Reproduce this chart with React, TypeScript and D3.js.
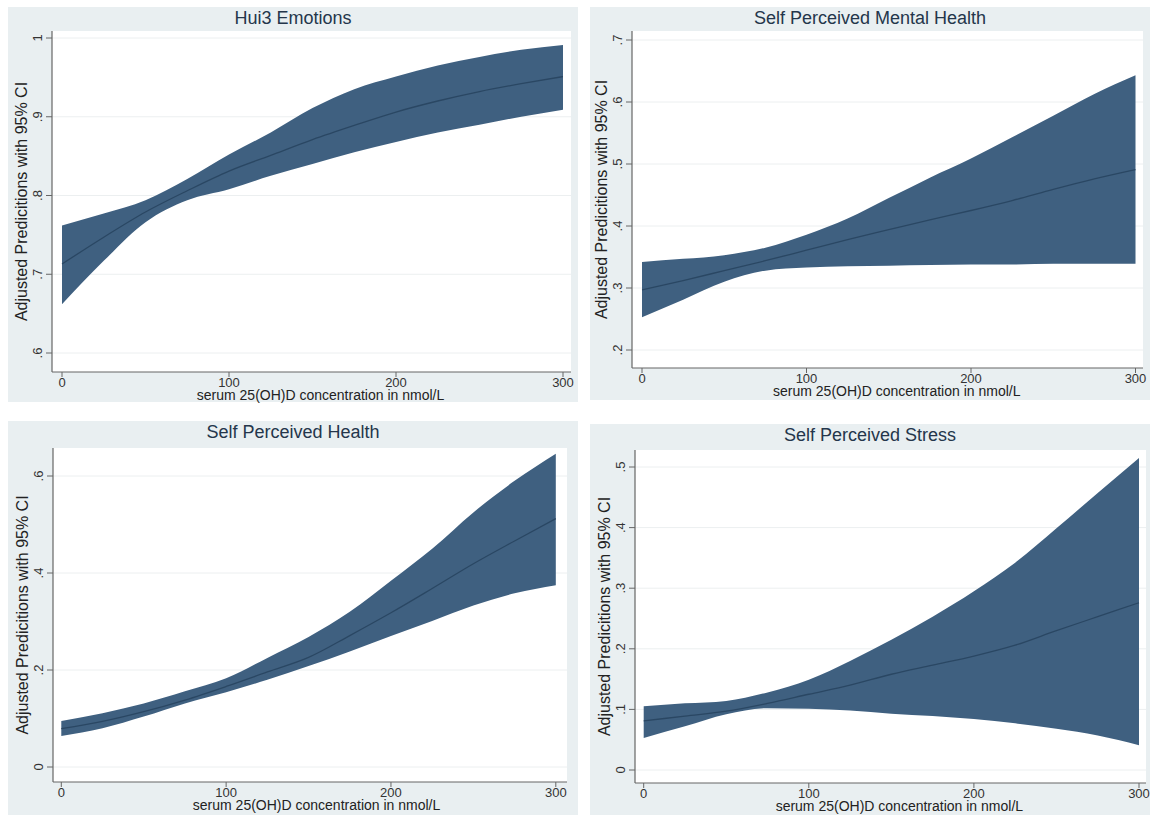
import React from "react";
import * as d3 from "d3";

// ---------- DATA ----------
const xValues = [0, 25, 50, 75, 100, 125, 150, 175, 200, 225, 250, 275, 300];
const xTicks = [0, 100, 200, 300];

const hui3Upper = [0.762, 0.777, 0.794, 0.821, 0.852, 0.880, 0.911, 0.935, 0.951, 0.965, 0.976, 0.985, 0.991];
const hui3Mean = [0.713, 0.747, 0.779, 0.806, 0.831, 0.851, 0.871, 0.889, 0.906, 0.920, 0.932, 0.942, 0.951];
const hui3Lower = [0.662, 0.717, 0.766, 0.794, 0.808, 0.825, 0.840, 0.855, 0.868, 0.880, 0.890, 0.900, 0.909];
const hui3Ticks = [0.6, 0.7, 0.8, 0.9, 1];
const hui3TickLabels = [".6", ".7", ".8", ".9", "1"];

const mentalUpper = [0.342, 0.347, 0.353, 0.365, 0.386, 0.412, 0.445, 0.478, 0.509, 0.543, 0.578, 0.613, 0.643];
const mentalMean = [0.297, 0.312, 0.328, 0.344, 0.361, 0.378, 0.394, 0.410, 0.425, 0.441, 0.459, 0.476, 0.491];
const mentalLower = [0.253, 0.281, 0.310, 0.328, 0.333, 0.335, 0.336, 0.337, 0.338, 0.338, 0.339, 0.339, 0.339];
const mentalTicks = [0.2, 0.3, 0.4, 0.5, 0.6, 0.7];
const mentalTickLabels = [".2", ".3", ".4", ".5", ".6", ".7"];

const healthUpper = [0.095, 0.111, 0.131, 0.156, 0.183, 0.225, 0.268, 0.320, 0.384, 0.450, 0.525, 0.590, 0.646];
const healthMean = [0.079, 0.094, 0.114, 0.138, 0.166, 0.196, 0.226, 0.271, 0.318, 0.368, 0.419, 0.466, 0.512];
const healthLower = [0.064, 0.080, 0.104, 0.131, 0.154, 0.180, 0.208, 0.238, 0.270, 0.301, 0.333, 0.358, 0.375];
const healthTicks = [0, 0.2, 0.4, 0.6];
const healthTickLabels = ["0", ".2", ".4", ".6"];

const stressUpper = [0.105, 0.110, 0.114, 0.128, 0.149, 0.180, 0.215, 0.253, 0.295, 0.342, 0.399, 0.457, 0.515];
const stressMean = [0.081, 0.089, 0.097, 0.110, 0.125, 0.140, 0.158, 0.173, 0.188, 0.206, 0.230, 0.253, 0.276];
const stressLower = [0.053, 0.072, 0.092, 0.102, 0.101, 0.098, 0.093, 0.089, 0.084, 0.077, 0.068, 0.057, 0.041];
const stressTicks = [0, 0.1, 0.2, 0.3, 0.4, 0.5];
const stressTickLabels = ["0", ".1", ".2", ".3", ".4", ".5"];

const titles = ["Hui3 Emotions", "Self Perceived Mental Health", "Self Perceived Health", "Self Perceived Stress"];
const xTitle = "serum 25(OH)D concentration in nmol/L";
const yTitle = "Adjusted Predicitions with 95% CI";

// ---------- STYLE / LAYOUT ----------
const FONT = "'Liberation Sans', Arial, Helvetica, sans-serif";
const PANEL_BG = "#e9eff1";
const BAND = "#3f6080";
const MEAN_LINE = "#2a4763";
const AXIS = "#666";
const GRID = "#eceff0";

const layouts = [
  { box: [8, 7, 570, 395], top: 31, axisX: 52, right: 571, axisY: 372, xRange: [62, 563], yRange: [353, 38], titleY: 24 },
  { box: [590, 7, 560, 393], top: 31, axisX: 632, right: 1143, axisY: 368, xRange: [642, 1135.5], yRange: [350, 40], titleY: 24 },
  { box: [8, 421, 570, 394], top: 448, axisX: 53, right: 567, axisY: 782, xRange: [61.3, 555.8], yRange: [767, 476], titleY: 438 },
  { box: [590, 424, 560, 391], top: 450, axisX: 635, right: 1146, axisY: 783, xRange: [643.7, 1139], yRange: [770, 467], titleY: 441 },
];

const panelData = [
  { upper: hui3Upper, mean: hui3Mean, lower: hui3Lower, ticks: hui3Ticks, labels: hui3TickLabels },
  { upper: mentalUpper, mean: mentalMean, lower: mentalLower, ticks: mentalTicks, labels: mentalTickLabels },
  { upper: healthUpper, mean: healthMean, lower: healthLower, ticks: healthTicks, labels: healthTickLabels },
  { upper: stressUpper, mean: stressMean, lower: stressLower, ticks: stressTicks, labels: stressTickLabels },
];

type Pt = { x: number; m: number; lo: number; hi: number };

function Panel({ idx }: { idx: number }) {
  const L = layouts[idx];
  const D = panelData[idx];
  const [bx, by, bw, bh] = L.box;
  const yDomain = [D.ticks[0], D.ticks[D.ticks.length - 1]];
  const x = d3.scaleLinear().domain([0, 300]).range(L.xRange);
  const y = d3.scaleLinear().domain(yDomain).range(L.yRange);
  const pts: Pt[] = xValues.map((v, i) => ({ x: v, m: D.mean[i], lo: D.lower[i], hi: D.upper[i] }));
  const area = d3
    .area<Pt>()
    .x((d) => x(d.x))
    .y0((d) => y(d.lo))
    .y1((d) => y(d.hi))
    .curve(d3.curveMonotoneX);
  const line = d3
    .line<Pt>()
    .x((d) => x(d.x))
    .y((d) => y(d.m))
    .curve(d3.curveMonotoneX);
  const xMid = (L.xRange[0] + L.xRange[1]) / 2 + 8;
  const yMid = (L.top + L.axisY) / 2;

  return (
    <g>
      <rect x={bx} y={by} width={bw} height={bh} fill={PANEL_BG} />
      <text x={bx + bw / 2} y={L.titleY} textAnchor="middle" fontSize={18} fill="#24364b" fontFamily={FONT}>
        {titles[idx]}
      </text>
      <rect x={L.axisX} y={L.top} width={L.right - L.axisX} height={L.axisY - L.top} fill="#ffffff" />
      {D.ticks.map((t, i) => (
        <line key={"g" + i} x1={L.axisX} x2={L.right} y1={y(t)} y2={y(t)} stroke={GRID} strokeWidth={1} />
      ))}
      <path d={area(pts) || ""} fill={BAND} />
      <path d={line(pts) || ""} fill="none" stroke={MEAN_LINE} strokeWidth={1.3} />
      {/* axes */}
      <line x1={L.axisX} x2={L.axisX} y1={L.top} y2={L.axisY} stroke={AXIS} strokeWidth={1.2} />
      <line x1={L.axisX} x2={L.right} y1={L.axisY} y2={L.axisY} stroke={AXIS} strokeWidth={1.2} />
      {D.ticks.map((t, i) => (
        <g key={"yt" + i}>
          <line x1={L.axisX - 6} x2={L.axisX} y1={y(t)} y2={y(t)} stroke={AXIS} strokeWidth={1} />
          <text
            transform={`translate(${L.axisX - 10},${y(t)}) rotate(-90)`}
            textAnchor="middle"
            fontSize={13}
            fill="#333"
            fontFamily={FONT}
          >
            {D.labels[i]}
          </text>
        </g>
      ))}
      {xTicks.map((t, i) => (
        <g key={"xt" + i}>
          <line x1={x(t)} x2={x(t)} y1={L.axisY} y2={L.axisY + 5} stroke={AXIS} strokeWidth={1} />
          <text x={x(t)} y={L.axisY + 15} textAnchor="middle" fontSize={13} fill="#333" fontFamily={FONT}>
            {t}
          </text>
        </g>
      ))}
      <text x={xMid} y={L.axisY + 28} textAnchor="middle" fontSize={14} fill="#222" fontFamily={FONT}>
        {xTitle}
      </text>
      <text
        transform={`translate(${L.axisX - 25},${yMid}) rotate(-90)`}
        textAnchor="middle"
        fontSize={16}
        fill="#222"
        fontFamily={FONT}
      >
        {yTitle}
      </text>
    </g>
  );
}

export default function App() {
  return (
    <svg
      width={1156}
      height={819}
      viewBox="0 0 1156 819"
      style={{ position: "absolute", left: 0, top: 0, display: "block", background: "#ffffff" }}
    >
      <rect x={0} y={0} width={1156} height={819} fill="#ffffff" />
      {layouts.map((_, i) => (
        <Panel key={i} idx={i} />
      ))}
    </svg>
  );
}
